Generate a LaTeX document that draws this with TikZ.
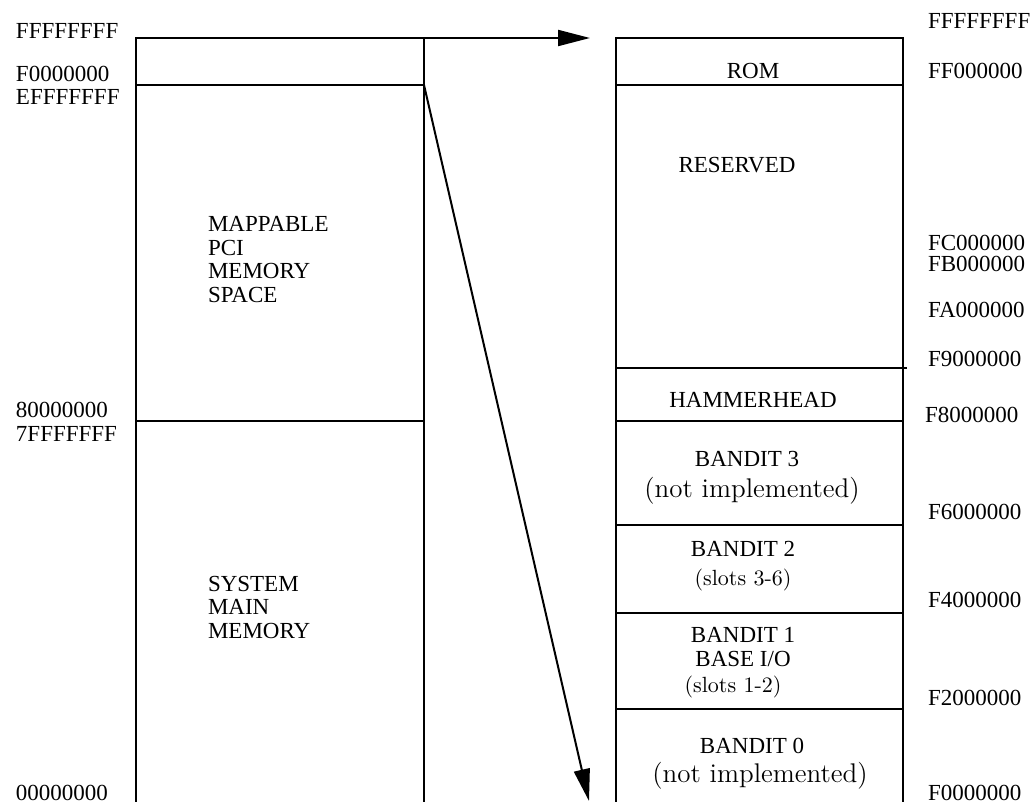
\documentclass[tikz,border=0pt]{standalone}
\usepackage{fontspec}
\setmainfont{Liberation Serif}
\newfontfamily\palfont{Latin Modern Roman}
\usetikzlibrary{arrows.meta}
\begin{document}
\begin{tikzpicture}[x=0.5pt,y=-0.5pt,line width=1pt,
  addr/.style={anchor=base west,inner sep=0pt,font=\fontsize{11.5}{13}\selectfont},
  lbl/.style={anchor=base,inner sep=0pt,font=\fontsize{11.5}{13}\selectfont},
  area/.style={anchor=base west,inner sep=0pt,align=left,font=\fontsize{11.5}{11.75}\selectfont},
  note/.style={anchor=base,inner sep=0pt,font=\palfont\fontsize{13.5}{15}\selectfont},
  slots/.style={anchor=base,inner sep=0pt,font=\palfont\fontsize{11}{13}\selectfont},
  map/.style={-{Triangle[length=16pt,width=8pt]}}]
\useasboundingbox (0,0) rectangle (1032,802);
% whole address space
\draw (136,802) -- (136,38) -- (424,38) -- (424,802);
\draw (136,85) -- (424,85);
\draw (136,421) -- (424,421);
\coordinate (top) at (424,38);
\coordinate (pcitop) at (424,85);
% upper 16 MB
\draw (616,802) -- (616,38) -- (903,38) -- (903,802);
\foreach \y in {85,421,525,613,709}
  \draw (616,\y) -- (903,\y);
\draw (616,368) -- (907,368);
\coordinate (romtop) at (590,38);
\coordinate (romend) at (589,801);
\draw[map] (top) -- (romtop);
\draw[map] (pcitop) -- (romend);
% left addresses
\node[addr] (a1) at (15,39) {FFFFFFFF};
\node[addr] (a2) at (15,82) {F0000000};
\node[addr] (a3) at (15,105) {EFFFFFFF};
\node[addr] (a4) at (15,417) {80000000};
\node[addr] (a5) at (15,441) {7FFFFFFF};
\node[addr] (a6) at (15,800) {00000000};
% right addresses
\node[addr] (b1) at (927,29) {FFFFFFFF};
\node[addr] (b2) at (927,79) {FF000000};
\node[addr] (b3) at (927,250) {FC000000};
\node[addr] (b4) at (927,271) {FB000000};
\node[addr] (b5) at (927,317) {FA000000};
\node[addr] (b6) at (927,366) {F9000000};
\node[addr] (b7) at (924,422) {F8000000};
\node[addr] (b8) at (927,519) {F6000000};
\node[addr] (b9) at (927,607) {F4000000};
\node[addr] (b10) at (927,705) {F2000000};
\node[addr] (b11) at (927,800) {F0000000};
% areas
\node[area] (pci) at (207,302) {MAPPABLE\\PCI\\MEMORY\\SPACE};
\node[area] (sys) at (207,638) {SYSTEM\\MAIN\\MEMORY};
\node[lbl] (rom) at (753,79) {ROM};
\node[lbl] (res) at (737,173) {RESERVED};
\node[lbl] (hh) at (753,407) {HAMMERHEAD};
\node[lbl] (bd3) at (747,466) {BANDIT 3};
\node[note] (bd3n) at (752,497) {(not implemented)};
\node[lbl] (bd2) at (743,556) {BANDIT 2};
\node[slots] (bd2s) at (743,585) {(slots 3-6)};
\node[lbl] (bd1) at (743,642) {BANDIT 1};
\node[lbl] (bd1b) at (743,666) {BASE I/O};
\node[slots] (bd1s) at (733,692) {(slots 1-2)};
\node[lbl] (bd0) at (752,753) {BANDIT 0};
\node[note] (bd0n) at (760,782) {(not implemented)};
\end{tikzpicture}
\end{document}
